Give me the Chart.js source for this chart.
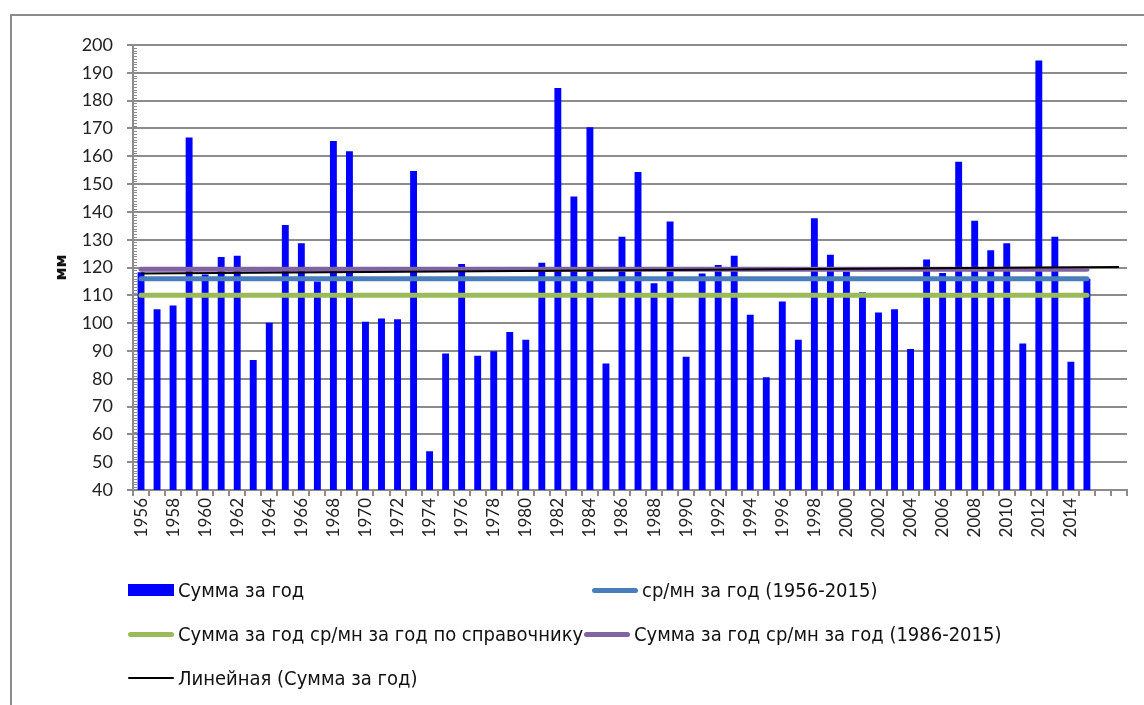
<!DOCTYPE html>
<html>
<head>
<meta charset="utf-8">
<script src="https://cdn.jsdelivr.net/npm/chart.js@4.4.1/dist/chart.umd.min.js"></script>
<style>
  body { margin: 0; background: #fff; width: 1144px; height: 705px; overflow: hidden; position: relative; }
  #frame { position: absolute; left: 10px; top: 14px; width: 1200px; height: 800px; border: 2px solid #8c8c8c; }
  #wrap { position: absolute; left: 0; top: 0; width: 1144px; height: 705px; }
  .leg-item { position: absolute; display: flex; align-items: center; height: 24px;
    font-family: "Liberation Sans Narrow", "DejaVu Sans Condensed", "Liberation Sans", sans-serif;
    font-stretch: condensed; font-size: 20px; color: #111; white-space: nowrap; }
  .leg-mark { width: 46px; margin-right: 4px; border-radius: 3px; }
</style>
</head>
<body>
<div id="frame"></div>
<div id="wrap"><canvas id="chart" width="1144" height="705"></canvas></div>
<div id="legend"></div>
<script>
const years = ['1956','1957','1958','1959','1960','1961','1962','1963','1964','1965',
  '1966','1967','1968','1969','1970','1971','1972','1973','1974','1975',
  '1976','1977','1978','1979','1980','1981','1982','1983','1984','1985',
  '1986','1987','1988','1989','1990','1991','1992','1993','1994','1995',
  '1996','1997','1998','1999','2000','2001','2002','2003','2004','2005',
  '2006','2007','2008','2009','2010','2011','2012','2013','2014','2015',
  '2016','2017'];

// Сумма за год, мм
const yearSum = [118.3, 105.0, 106.3, 166.7, 117.5, 123.8, 124.2, 86.7, 100.1, 135.3,
  128.7, 115.0, 165.5, 161.8, 100.5, 101.7, 101.4, 154.7, 53.9, 89.1,
  121.3, 88.3, 89.9, 96.8, 94.0, 121.7, 184.5, 145.5, 170.4, 85.5,
  131.1, 154.3, 114.3, 136.5, 87.9, 117.8, 120.9, 124.2, 103.0, 80.5,
  107.8, 94.0, 137.7, 124.6, 118.5, 111.1, 103.8, 105.0, 90.7, 122.9,
  118.0, 158.0, 136.8, 126.2, 128.7, 92.7, 194.4, 131.1, 86.1, 116.0,
  null, null];

// horizontal reference levels (start / end of each line)
const meanAll = [116.0, 116.0];      // ср/мн за год (1956-2015)
const meanRef = [110.0, 110.0];      // по справочнику
const meanRecent = [119.4, 119.4];   // (1986-2015)
const trendEnds = [117.8, 120.2];    // Линейная (Сумма за год)

const yTicks = [40, 50, 60, 70, 80, 90, 100, 110, 120, 130, 140, 150, 160, 170, 180, 190, 200];

function spanLine(ends, lastIndex) {
  const arr = years.map(() => null);
  arr[0] = ends[0];
  arr[lastIndex] = ends[1];
  return arr;
}

const minorTicks = {
  id: 'minorTicks',
  afterDraw(chart) {
    const y = chart.scales.y;
    const ctx = chart.ctx;
    ctx.save();
    ctx.strokeStyle = '#8c8c8c';
    ctx.lineWidth = 1;
    for (let v = yTicks[0]; v < yTicks[yTicks.length - 1]; v++) {
      if (v % 10 === 0) continue;
      const py = Math.round(y.getPixelForValue(v)) + 0.5;
      ctx.beginPath();
      ctx.moveTo(y.right, py);
      ctx.lineTo(y.right + 4, py);
      ctx.stroke();
    }
    ctx.restore();
  }
};

const lineBase = { type: 'line', pointRadius: 0, spanGaps: true, fill: false, tension: 0 };

const chart = new Chart(document.getElementById('chart'), {
  type: 'bar',
  data: {
    labels: years,
    datasets: [
      { ...lineBase, label: 'Линейная (Сумма за год)', data: spanLine(trendEnds, 61),
        borderColor: '#000000', borderWidth: 2, order: 0 },
      { ...lineBase, label: 'Сумма за год ср/мн за год (1986-2015)', data: spanLine(meanRecent, 59),
        borderColor: '#8064a2', borderWidth: 5, borderCapStyle: 'round', order: 1 },
      { ...lineBase, label: 'ср/мн за год (1956-2015)', data: spanLine(meanAll, 59),
        borderColor: '#4a7ebb', borderWidth: 5, borderCapStyle: 'round', order: 2 },
      { ...lineBase, label: 'Сумма за год ср/мн за год по справочнику', data: spanLine(meanRef, 59),
        borderColor: '#9bbb59', borderWidth: 5, borderCapStyle: 'round', order: 3 },
      { label: 'Сумма за год', data: yearSum, backgroundColor: '#0000ff',
        borderWidth: 0, categoryPercentage: 1, barPercentage: 0.43, order: 10 }
    ]
  },
  options: {
    responsive: false,
    animation: false,
    layout: { padding: { left: 0, right: 17, top: 45, bottom: 0 } },
    plugins: { legend: { display: false }, tooltip: { enabled: false } },
    scales: {
      x: {
        grid: { drawOnChartArea: false, color: '#8c8c8c', lineWidth: 2, tickLength: 6, offset: true },
        border: { color: '#8c8c8c', width: 2 },
        ticks: {
          autoSkip: false, minRotation: 90, maxRotation: 90, padding: 2,
          color: '#222', font: { family: 'Lato', size: 17 },
          callback: (v, i) => (i % 2 === 0 && i < 60 ? years[i] : '')
        },
        afterFit: s => { s.height = 215; }
      },
      y: {
        min: 40, max: 200,
        afterBuildTicks: s => { s.ticks = yTicks.map(v => ({ value: v })); },
        grid: { color: '#8c8c8c', lineWidth: 2, tickLength: 6 },
        border: { color: '#8c8c8c', width: 2 },
        ticks: { color: '#222', padding: 14, font: { family: 'Lato', size: 18 } },
        title: { display: true, text: 'мм', color: '#111', padding: { top: 52, bottom: 0 },
          font: { family: 'DejaVu Sans', size: 16, weight: 'bold' } },
        afterFit: s => { s.width = 133; }
      }
    }
  },
  plugins: [minorTicks]
});

// legend, built from the chart's own datasets
const legendSpots = [
  { label: 'Сумма за год', x: 128, y: 578, box: true },
  { label: 'ср/мн за год (1956-2015)', x: 592, y: 578 },
  { label: 'Сумма за год ср/мн за год по справочнику', x: 128, y: 622 },
  { label: 'Сумма за год ср/мн за год (1986-2015)', x: 584, y: 622 },
  { label: 'Линейная (Сумма за год)', x: 128, y: 666, thin: true }
];
const legendEl = document.getElementById('legend');
for (const spot of legendSpots) {
  const ds = chart.data.datasets.find(d => d.label === spot.label);
  const item = document.createElement('div');
  item.className = 'leg-item';
  item.style.left = spot.x + 'px';
  item.style.top = spot.y + 'px';
  const mark = document.createElement('span');
  mark.className = 'leg-mark';
  if (spot.box) {
    mark.style.height = '12px'; mark.style.borderRadius = '0'; mark.style.background = ds.backgroundColor;
  } else {
    mark.style.height = spot.thin ? '2px' : '5px';
    mark.style.background = ds.borderColor;
  }
  const txt = document.createElement('span');
  txt.textContent = ds.label;
  item.appendChild(mark);
  item.appendChild(txt);
  legendEl.appendChild(item);
}
</script>
</body>
</html>
